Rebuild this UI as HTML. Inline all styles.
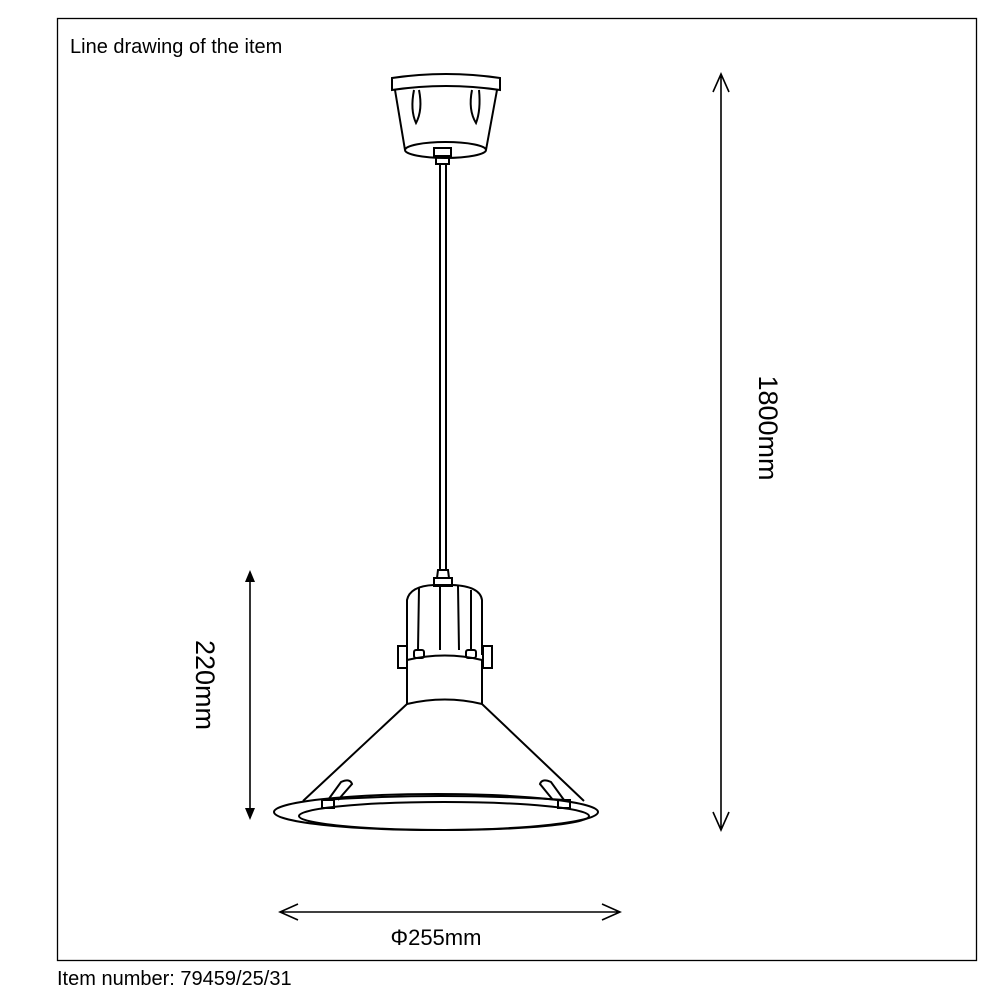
<!DOCTYPE html>
<html><head><style>
body{margin:0;background:#fff;width:1000px;height:1000px;overflow:hidden}
svg{display:block}
</style></head><body>
<svg width="1000" height="1000" viewBox="0 0 1000 1000" xmlns="http://www.w3.org/2000/svg">
<rect x="57.5" y="18.5" width="919" height="942" fill="none" stroke="#000" stroke-width="1.3"/>
<text x="70" y="53" font-family="Liberation Sans, sans-serif" font-size="20">Line drawing of the item</text>
<text x="57" y="985" font-family="Liberation Sans, sans-serif" font-size="20">Item number: 79459/25/31</text>
<g fill="none" stroke="#000" stroke-width="2">
<!-- ceiling cup -->
<path d="M392 78 Q446 70 500 78 L500 90 Q446 82 392 90 Z"/>
<path d="M395 90 L405 150 M497 90 L486 150"/>
<ellipse cx="445.5" cy="150" rx="40.5" ry="8"/>
<path d="M414 90 Q410 110 416 123 Q423 110 419 90"/>
<path d="M472 90 Q468 110 476 123 Q481 110 479 90"/>
<rect x="434" y="148" width="17" height="8"/>
<path d="M436 156 L436 164 L449 164 L449 156"/>
<!-- cable -->
<path d="M440 164 L440 570 M446 164 L446 570"/>
<!-- socket -->
<path d="M438 570 L448 570 L449 578 L437 578 Z"/>
<rect x="434" y="578" width="18" height="8"/>
<path d="M407 655 L407 600 Q410 586 434 585 L452 585 Q480 586 482 600 L482 655"/>
<path d="M419 588 L418 650 M440 586 L440 650 M458 586 L459 650 M471 590 L471 650"/>
<rect x="398" y="646" width="9" height="22"/>
<rect x="483" y="646" width="9" height="22"/>
<rect x="414" y="650" width="10" height="8" rx="2"/>
<rect x="466" y="650" width="10" height="8" rx="2"/>
<path d="M407 660 Q445 651 482 660 L482 704 M407 660 L407 704"/>
<path d="M407 704 Q445 695 482 704 L584 801 M407 704 L303 801"/>
<ellipse cx="436" cy="812" rx="162" ry="18"/>
<ellipse cx="444" cy="816" rx="145" ry="14"/>
<path d="M322 800 Q440 792 565 800"/>
<rect x="322" y="800" width="12" height="8"/>
<rect x="558" y="800" width="12" height="8"/>
<path d="M328 800 L341 782 Q350 778 352 784 L338 800"/>
<path d="M564 800 L551 782 Q542 778 540 784 L553 800"/>
</g>
<!-- dimension lines -->
<g stroke="#000" stroke-width="1.6" fill="none">
<path d="M721 74 L721 830 M713 92 L721 74 L729 92 M713 812 L721 830 L729 812"/>
<path d="M280 912 L620 912 M298 904 L280 912 L298 920 M602 904 L620 912 L602 920"/>
<path d="M250 578 L250 812"/>
</g>
<path d="M250 570 L245 582 L255 582 Z M250 820 L245 808 L255 808 Z" fill="#000"/>
<text transform="translate(759 428) rotate(90)" text-anchor="middle" font-family="Liberation Sans, sans-serif" font-size="27">1800mm</text>
<text transform="translate(196 685) rotate(90)" text-anchor="middle" font-family="Liberation Sans, sans-serif" font-size="27">220mm</text>
<text x="436" y="945" text-anchor="middle" font-family="Liberation Sans, DejaVu Sans, sans-serif" font-size="22">Φ255mm</text>
</svg>
</body></html>
